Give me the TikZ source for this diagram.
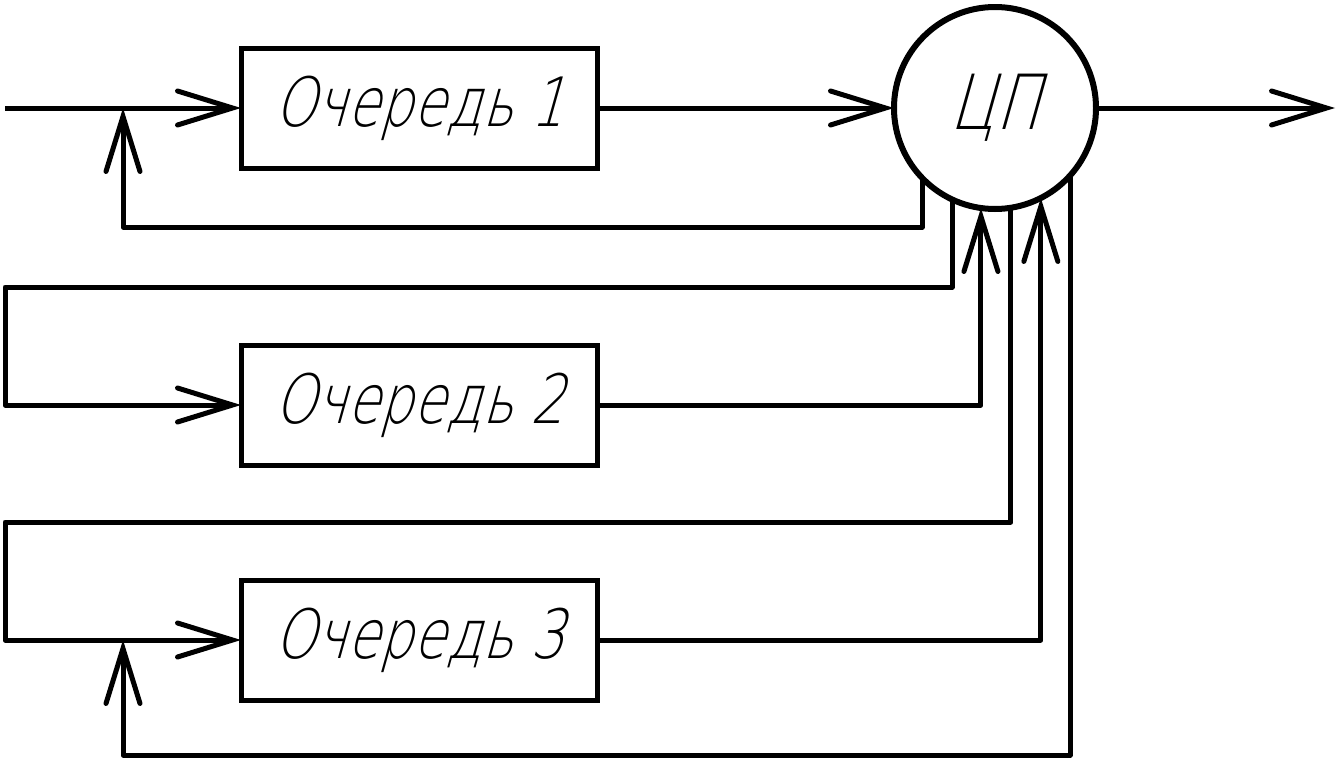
\documentclass[tikz,border=0pt]{standalone}
\usepackage{fontspec}
\usetikzlibrary{arrows.meta}
\newfontfamily\gost[FakeSlant=0.28,FakeStretch=0.78]{DejaVu Sans ExtraLight}
\begin{document}
\begin{tikzpicture}[x=1pt,y=-1pt,
  wire/.style={line width=5pt,line join=round},
  arr/.style={wire,-{Straight Barb[length=55pt,width=34pt,line cap=round]}},
  queue/.style={draw,line width=5pt,minimum width=356pt,minimum height=120pt,inner sep=0pt,outer sep=0pt,font=\gost\fontsize{68}{68}\selectfont},
  cpustyle/.style={draw,circle,line width=6pt,minimum size=202pt,inner sep=0pt,outer sep=0pt,font=\gost\fontsize{76}{76}\selectfont}]
\useasboundingbox (0,0) rectangle (1342,766);
\node[queue] (q1) at (419,108) {Очередь 1};
\node[queue] (q2) at (419,405) {Очередь 2};
\node[queue] (q3) at (419,640) {Очередь 3};
\node[cpustyle] (cpu) at (995,108) {ЦП};
\coordinate (in) at (5,108);
\coordinate (out) at (1335,108);
\coordinate (j1) at (123,108);
\coordinate (fb1) at (123,227);
\coordinate (l2) at (5,287);
\coordinate (l3) at (5,522);
\coordinate (j3) at (123,640);
\coordinate (fb3) at (123,755);
\draw[arr] (in) -- (q1.west);
\draw[arr] (q1.east) -- (cpu.west);
\draw[arr] (cpu.east) -- (out);
\draw[arr] (cpu.-136.3) |- (fb1) -- (j1);
\draw[arr] (cpu.-115.2) |- (l2) |- (q2.west);
\draw[arr] (q2.east) -| (cpu.-98.5);
\draw[arr] (cpu.-81.5) |- (l3) |- (q3.west);
\draw[arr] (q3.east) -| (cpu.-63.5);
\draw[arr] (cpu.-42) |- (fb3) -- (j3);
\end{tikzpicture}
\end{document}
